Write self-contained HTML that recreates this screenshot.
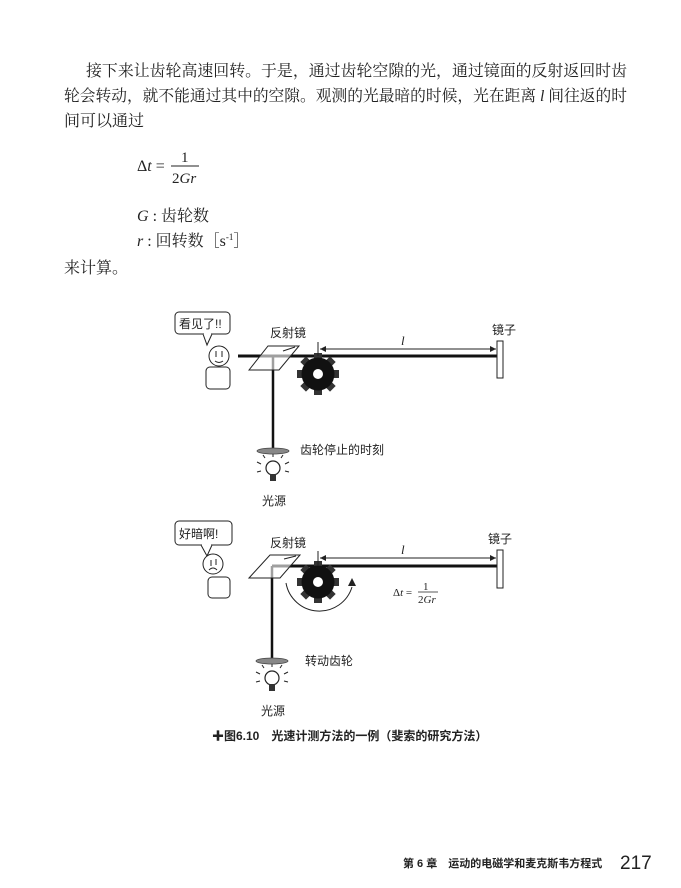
<!DOCTYPE html>
<html><head><meta charset="utf-8"><style>
html,body{margin:0;padding:0;background:#fff}
svg{display:block}
.t{font-family:"Liberation Serif","Noto Serif CJK SC",serif;fill:#222}
.s{font-family:"Liberation Sans","Noto Sans CJK SC",sans-serif;fill:#222}
</style></head><body>
<svg width="681" height="888" viewBox="0 0 681 888" xmlns="http://www.w3.org/2000/svg">
<defs>
<g id="gear">
<g fill="#333">
<rect x="-4" y="-21" width="8" height="42"/>
<rect x="-4" y="-21" width="8" height="42" transform="rotate(45)"/>
<rect x="-4" y="-21" width="8" height="42" transform="rotate(90)"/>
<rect x="-4" y="-21" width="8" height="42" transform="rotate(135)"/>
</g>
<circle r="16.5" fill="#111"/>
<circle r="5" fill="#fff"/>
</g>
<g id="bulb">
<circle cx="0" cy="0" r="7" fill="#fff" stroke="#222" stroke-width="1.2"/>
<rect x="-3" y="6" width="6" height="7" fill="#333"/>
<g stroke="#222" stroke-width="1">
<line x1="-12" y1="-4" x2="-16" y2="-6"/><line x1="12" y1="-4" x2="16" y2="-6"/>
<line x1="-8" y1="-10" x2="-10" y2="-13"/><line x1="8" y1="-10" x2="10" y2="-13"/>
<line x1="0" y1="-11" x2="0" y2="-14"/>
<line x1="-12" y1="3" x2="-16" y2="4"/><line x1="12" y1="3" x2="16" y2="4"/>
</g>
</g>
</defs>

<text class="t" x="86" y="76" font-size="16" textLength="541" lengthAdjust="spacingAndGlyphs">接下来让齿轮高速回转。于是，通过齿轮空隙的光，通过镜面的反射返回时齿</text>
<text class="t" x="64" y="101" font-size="16" textLength="563" lengthAdjust="spacingAndGlyphs">轮会转动，就不能通过其中的空隙。观测的光最暗的时候，光在距离 <tspan font-style="italic">l</tspan> 间往返的时</text>
<text class="t" x="64" y="126" font-size="16">间可以通过</text>

<text class="t" x="137" y="171" font-size="16">Δ<tspan font-style="italic">t</tspan> =</text>
<text class="t" x="181" y="162" font-size="15">1</text>
<line x1="171" y1="166" x2="199" y2="166" stroke="#222" stroke-width="1"/>
<text class="t" x="172" y="183" font-size="15">2<tspan font-style="italic">Gr</tspan></text>

<text class="t" x="137" y="221" font-size="16"><tspan font-style="italic">G</tspan> : 齿轮数</text>
<text class="t" x="137" y="246" font-size="16"><tspan font-style="italic">r</tspan> : 回转数［s<tspan font-size="9" dy="-6">-1</tspan><tspan dy="6">］</tspan></text>
<text class="t" x="64" y="273" font-size="16">来计算。</text>

<!-- Diagram 1 -->
<rect x="175" y="312" width="55" height="22" rx="4" fill="#fff" stroke="#222" stroke-width="1"/>
<path d="M203 334 L207 345 L212 334" fill="#fff" stroke="#222" stroke-width="1"/>
<line x1="204" y1="334" x2="211" y2="334" stroke="#fff" stroke-width="1.5"/>
<text class="s" x="179" y="328" font-size="12">看见了!!</text>
<circle cx="219" cy="356" r="10" fill="#fff" stroke="#222" stroke-width="1"/>
<line x1="216" y1="351" x2="216" y2="357" stroke="#222"/><line x1="222" y1="351" x2="222" y2="357" stroke="#222"/>
<path d="M215 361 Q219 364 223 361" fill="none" stroke="#222"/>
<rect x="206" y="367" width="24" height="22" rx="4" fill="#fff" stroke="#222"/>
<line x1="238" y1="356" x2="500" y2="356" stroke="#111" stroke-width="3"/>
<line x1="273" y1="356" x2="273" y2="450" stroke="#111" stroke-width="2.5"/>
<polygon points="249,370 268,346 299,346 279,370" fill="#fff" stroke="#222" stroke-width="1" fill-opacity="0.6"/>
<line x1="283" y1="351" x2="295" y2="347" stroke="#222"/>
<use href="#gear" x="318" y="374"/>
<line x1="318" y1="342" x2="318" y2="356" stroke="#222"/>
<line x1="320" y1="349" x2="496" y2="349" stroke="#222"/>
<path d="M320 349 l6 -3 v6z M496 349 l-6 -3 v6z" fill="#222"/>
<text class="t" x="401" y="345" font-size="13" font-style="italic">l</text>
<rect x="497" y="341" width="6" height="37" fill="#fff" stroke="#222"/>
<text class="s" x="492" y="334" font-size="12">镜子</text>
<text class="s" x="270" y="337" font-size="12">反射镜</text>
<ellipse cx="273" cy="451" rx="16" ry="3" fill="#888" stroke="#444" stroke-width="0.8"/>
<text class="s" x="300" y="454" font-size="12">齿轮停止的时刻</text>
<use href="#bulb" x="273" y="468"/>
<text class="s" x="262" y="505" font-size="12">光源</text>

<!-- Diagram 2 -->
<rect x="175" y="521" width="57" height="24" rx="4" fill="#fff" stroke="#222"/>
<path d="M201 545 L207 556 L212 545" fill="#fff" stroke="#222"/>
<line x1="202" y1="545" x2="211" y2="545" stroke="#fff" stroke-width="1.5"/>
<text class="s" x="179" y="538" font-size="12">好暗啊!</text>
<circle cx="213" cy="564" r="10" fill="#fff" stroke="#222"/>
<line x1="211" y1="560" x2="211" y2="566" stroke="#222"/><line x1="216" y1="559" x2="216" y2="565" stroke="#222"/>
<path d="M209 570 Q213 566 217 570" fill="none" stroke="#222"/>
<rect x="208" y="577" width="22" height="21" rx="4" fill="#fff" stroke="#222"/>
<line x1="272" y1="566" x2="500" y2="566" stroke="#111" stroke-width="3"/>
<line x1="272" y1="566" x2="272" y2="660" stroke="#111" stroke-width="2.5"/>
<polygon points="249,578 270,555 300,555 280,578" fill="#fff" stroke="#222" fill-opacity="0.6"/>
<line x1="284" y1="559" x2="296" y2="556" stroke="#222"/>
<use href="#gear" x="318" y="582"/>
<line x1="318" y1="551" x2="318" y2="566" stroke="#222"/>
<line x1="320" y1="558" x2="496" y2="558" stroke="#222"/>
<path d="M320 558 l6 -3 v6z M496 558 l-6 -3 v6z" fill="#222"/>
<text class="t" x="401" y="554" font-size="13" font-style="italic">l</text>
<rect x="497" y="550" width="6" height="38" fill="#fff" stroke="#222"/>
<text class="s" x="488" y="543" font-size="12">镜子</text>
<text class="s" x="270" y="547" font-size="12">反射镜</text>
<path d="M286 583 A34 34 0 0 0 352 587" fill="none" stroke="#222" stroke-width="1"/>
<path d="M352 578 l-4 8 h8z" fill="#222"/>
<text class="t" x="393" y="596" font-size="11">Δ<tspan font-style="italic">t</tspan> =</text>
<text class="t" x="423" y="590" font-size="11">1</text>
<line x1="418" y1="592" x2="438" y2="592" stroke="#222" stroke-width="0.8"/>
<text class="t" x="418" y="603" font-size="11">2<tspan font-style="italic">Gr</tspan></text>
<ellipse cx="272" cy="661" rx="16" ry="3" fill="#888" stroke="#444" stroke-width="0.8"/>
<text class="s" x="305" y="665" font-size="12">转动齿轮</text>
<use href="#bulb" x="272" y="678"/>
<text class="s" x="261" y="715" font-size="12">光源</text>

<text class="s" x="212" y="740" font-size="12" font-weight="bold">✚图6.10　光速计测方法的一例（斐索的研究方法）</text>

<text class="s" x="403" y="867" font-size="11" font-weight="bold">第 6 章　运动的电磁学和麦克斯韦方程式</text>
<text class="s" x="620" y="869" font-size="19">217</text>
</svg>
</body></html>
